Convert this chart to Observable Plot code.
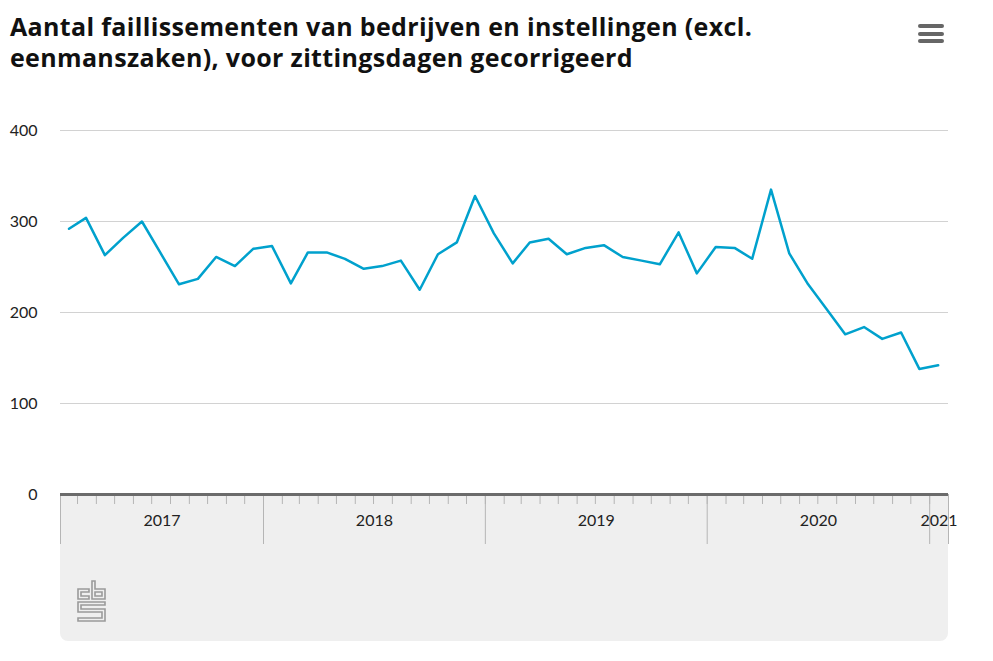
<!DOCTYPE html>
<html>
<head>
<meta charset="utf-8">
<script src="https://cdn.jsdelivr.net/npm/d3@7"></script>
<script src="https://cdn.jsdelivr.net/npm/@observablehq/plot@0.6"></script>
<style>
  html, body { margin: 0; padding: 0; background: #fff; }
  body { width: 993px; height: 661px; position: relative; overflow: hidden; font-family: Lato, "Noto Sans", sans-serif; }
  #title { position: absolute; left: 10px; top: 11px; font-family: "Open Sans", "Noto Sans", sans-serif; font-size: 25px; letter-spacing: 0.35px; font-weight: 700; line-height: 31px; color: #111; white-space: nowrap; }
  #menu { position: absolute; left: 918px; top: 24px; width: 26px; }
  #menu span { display: block; height: 4px; border-radius: 2px; background: #666; margin-bottom: 3.5px; }
  #panel { position: absolute; left: 60px; top: 494px; width: 888px; height: 147px; background: #efefef; border-radius: 0 0 8px 8px; }
  #logo { position: absolute; left: 77px; top: 580px; }
  #chart { position: absolute; left: 0; top: 90px; }
</style>
</head>
<body>
<div id="panel"></div>
<svg id="logo" width="29" height="42" viewBox="0 0 29 42" fill="none" stroke="#9a9a9a" stroke-width="1.6">
  <path d="M1 9 H12 V12 H4 V16 H12 V19 H1 Z"/>
  <path d="M15 1 H18 V9 H28 V19 H15 Z M18 12 V16 H25 V12 Z"/>
  <path d="M1 22 H28 V25 H4 V29 H28 V41 H1 V38 H25 V32 H1 Z"/>
</svg>
<div id="title">Aantal faillissementen van bedrijven en instellingen (excl.<br>eenmanszaken), voor zittingsdagen gecorrigeerd</div>
<div id="menu"><span></span><span></span><span></span></div>
<div id="chart"></div>
<script>
const months = [
  "2017-02","2017-03","2017-04","2017-05","2017-06","2017-07","2017-08","2017-09","2017-10","2017-11","2017-12",
  "2018-01","2018-02","2018-03","2018-04","2018-05","2018-06","2018-07","2018-08","2018-09","2018-10","2018-11","2018-12",
  "2019-01","2019-02","2019-03","2019-04","2019-05","2019-06","2019-07","2019-08","2019-09","2019-10","2019-11","2019-12",
  "2020-01","2020-02","2020-03","2020-04","2020-05","2020-06","2020-07","2020-08","2020-09","2020-10","2020-11","2020-12",
  "2021-01"
];
const values = [
  292, 304, 263, 282, 300, 266, 231, 237, 261, 251, 270,
  273, 232, 266, 266, 259, 248, 251, 257, 225, 264, 277, 328,
  287, 254, 277, 281, 264, 271, 274, 261, 257, 253, 288, 243,
  272, 271, 259, 335, 265, 231, 204, 176, 184, 171, 178, 138,
  142
];
const yTicks = [0, 100, 200, 300, 400];
const yearLabels = ["2017", "2018", "2019", "2020", "2021"];
const domainStart = "2017-02-01";
const domainEnd = "2021-02-01";

const start = new Date(domainStart + "T00:00:00Z");
const end = new Date(domainEnd + "T00:00:00Z");
const data = months.map((m, i) => {
  const [y, mo] = m.split("-").map(Number);
  return { date: new Date(Date.UTC(y, mo - 1, 15)), value: values[i] };
});
const yearBounds = yearLabels.map(y => {
  const a = new Date(Date.UTC(+y, 0, 1)), b = new Date(Date.UTC(+y + 1, 0, 1));
  const lo = a < start ? start : a, hi = b > end ? end : b;
  return { label: y, lo, hi, mid: new Date((+lo + +hi) / 2) };
});
const longTicks = [start, ...yearBounds.map(d => d.lo).filter(d => +d !== +start), end];
const monthTicks = d3.utcMonth.range(start, end);

const chart = Plot.plot({
  width: 993,
  height: 464,
  marginLeft: 60,
  marginRight: 45,
  marginTop: 40,
  marginBottom: 60,
  style: { fontFamily: "Lato, 'Noto Sans', sans-serif", fontSize: "16px", color: "#222", background: "transparent" },
  x: { type: "utc", domain: [start, end], label: null },
  y: { domain: [0, 400], label: null },
  marks: [
    Plot.gridY(yTicks, { stroke: "#d2d2d2", strokeOpacity: 1 }),
    Plot.axisY(yTicks, { tickSize: 0, tickPadding: 23, fontSize: 16, fill: "#222", label: null }),
    Plot.axisX(monthTicks, { tickSize: 10, stroke: "#b5b5b5", strokeOpacity: 1, tickFormat: () => "", label: null }),
    Plot.axisX(longTicks, { tickSize: 50, stroke: "#b5b5b5", strokeOpacity: 1, tickFormat: () => "", label: null }),
    Plot.text(yearBounds, { x: "mid", text: "label", frameAnchor: "bottom", dy: 31, fontSize: 16, fill: "#222" }),
    Plot.ruleY([0], { stroke: "#6b6b6b", strokeWidth: 3 }),
    Plot.line(data, { x: "date", y: "value", stroke: "#00a1cd", strokeWidth: 2.5 })
  ]
});
document.getElementById("chart").appendChild(chart);
</script>
</body>
</html>
